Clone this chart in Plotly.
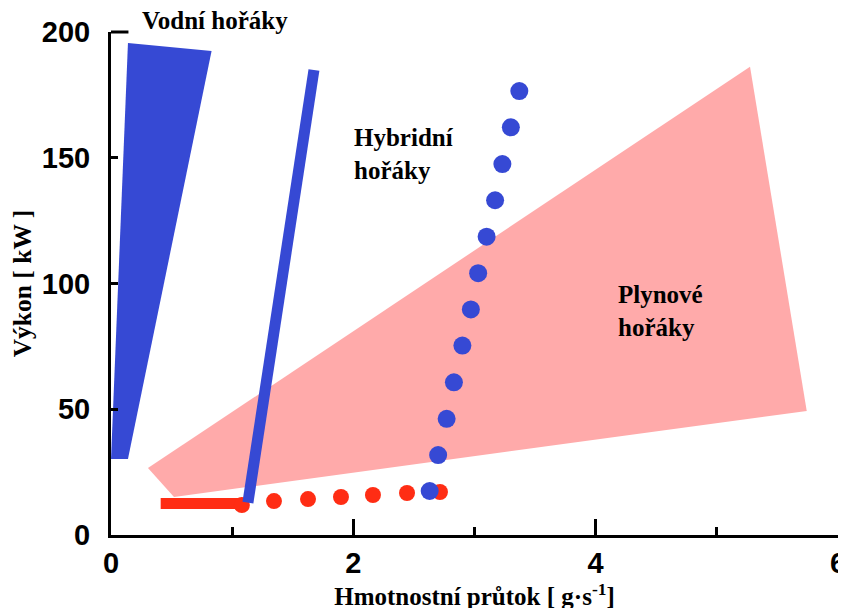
import plotly.graph_objects as go

# ---- data ----
water_x = [0.14, 0.83, 0.14, 0.0]
water_y = [195.6, 192.4, 30.2, 30.2]

gas_x = [0.305, 5.274, 5.742, 0.52]
gas_y = [26.6, 186.2, 49.3, 15.1]

hybrid_line_x = [1.13, 1.675]
hybrid_line_y = [12.9, 184.9]

red_bar_x = [0.41, 1.065]
red_bar_y = [12.5, 12.5]

red_dots_x = [1.08, 1.345, 1.626, 1.898, 2.162, 2.443, 2.715]
red_dots_y = [11.9, 13.5, 14.3, 15.1, 15.9, 16.7, 17.1]

blue_dots_x = [3.37, 3.30, 3.23, 3.17, 3.10, 3.03, 2.97, 2.90, 2.83, 2.77, 2.70, 2.63]
blue_dots_y = [176.5, 162.1, 147.5, 133.1, 118.6, 104.1, 89.7, 75.3, 60.7, 46.2, 31.8, 17.5]

x_ticks = [0, 2, 4, 6]
y_ticks = [0, 50, 100, 150, 200]
y_max = 200

labels = ["Vodní hořáky", "Hybridní<br>hořáky", "Plynové<br>hořáky"]
label_x = [0.24, 1.99, 4.17]
label_y = [204.5, 151.5, 89.0]

BLUE = "rgb(54,73,212)"
RED = "rgb(255,45,20)"
PINK = "rgb(255,170,170)"
SERIF = "Liberation Serif"
SANS = "Liberation Sans"

fig = go.Figure()
fig.add_trace(go.Scatter(x=gas_x, y=gas_y, fill="toself", fillcolor=PINK,
                         mode="lines", line=dict(width=0, color=PINK), hoverinfo="skip"))
fig.add_trace(go.Scatter(x=water_x, y=water_y, fill="toself", fillcolor=BLUE,
                         mode="lines", line=dict(width=0, color=BLUE), hoverinfo="skip"))
fig.add_trace(go.Scatter(x=red_bar_x, y=red_bar_y, mode="lines",
                         line=dict(width=11, color=RED)))
fig.add_trace(go.Scatter(x=red_dots_x, y=red_dots_y, mode="markers",
                         marker=dict(size=16, color=RED)))
fig.add_trace(go.Scatter(x=hybrid_line_x, y=hybrid_line_y, mode="lines",
                         line=dict(width=11, color=BLUE)))
fig.add_trace(go.Scatter(x=blue_dots_x, y=blue_dots_y, mode="markers",
                         marker=dict(size=18, color=BLUE)))

for t, lx, ly in zip(labels, label_x, label_y):
    # labels above the axis range are placed in paper units (same scale)
    if ly > y_max:
        fig.add_annotation(x=lx, y=ly / y_max, yref="paper", text=t, showarrow=False,
                           xanchor="left", yanchor="middle", align="left",
                           font=dict(family=SERIF, size=25, color="black", weight="bold"))
    else:
        fig.add_annotation(x=lx, y=ly, text=t, showarrow=False, xanchor="left",
                           yanchor="middle", align="left",
                           font=dict(family=SERIF, size=25, color="black", weight="bold"))

# longer tick at the top of the y axis
fig.add_shape(type="line", xref="paper", yref="paper", x0=0, x1=0.024, y0=1, y1=1,
              line=dict(color="black", width=3))

# the page body adds an 8px offset, so margins are shifted by 8px
fig.update_layout(
    width=846, height=608,
    margin=dict(l=103, r=16, t=24, b=81),
    paper_bgcolor="white", plot_bgcolor="white",
    showlegend=False,
    xaxis=dict(range=[0, 6], tickvals=x_ticks, showgrid=False, zeroline=False,
               automargin=False,
               showline=True, linewidth=3, linecolor="black",
               ticks="inside", ticklen=16, tickwidth=3, tickcolor="black",
               minor=dict(dtick=1, ticks="inside", ticklen=8, tickwidth=3, tickcolor="black"),
               tickfont=dict(family=SANS, size=29, color="black", weight="bold"),
               ticklabelstandoff=0,
               title=dict(text="Hmotnostní průtok [ g·s<sup>-1</sup>]", standoff=5,
                          font=dict(family=SERIF, size=25, color="black", weight="bold"))),
    yaxis=dict(range=[0, y_max], tickvals=y_ticks, showgrid=False, zeroline=False,
               automargin=False,
               showline=True, linewidth=3, linecolor="black",
               ticks="inside", ticklen=7, tickwidth=3, tickcolor="black",
               tickfont=dict(family=SANS, size=29, color="black", weight="bold"),
               ticklabelstandoff=12,
               title=dict(text="Výkon [ kW ]", standoff=12,
                          font=dict(family=SERIF, size=25.5, color="black", weight="bold"))),
)

fig.write_html("out.html")
